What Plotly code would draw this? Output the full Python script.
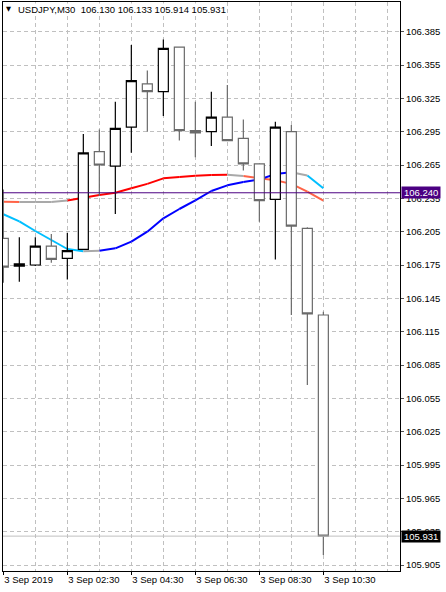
import plotly.graph_objects as go

# ---------------- data ----------------
symbol = "USDJPY,M30"
bar_index = list(range(21))
open_ = [106.199, 106.174, 106.175, 106.192, 106.181, 106.189, 106.277, 106.264, 106.299, 106.338,
         106.331, 106.371, 106.296, 106.295, 106.308, 106.289, 106.266, 106.234, 106.295, 106.208, 106.130]
high_ = [106.243, 106.200, 106.200, 106.203, 106.204, 106.293, 106.297, 106.322, 106.373, 106.350,
         106.378, 106.371, 106.322, 106.331, 106.337, 106.306, 106.266, 106.304, 106.301, 106.209, 106.133]
low_ = [106.159, 106.160, 106.174, 106.177, 106.162, 106.189, 106.237, 106.221, 106.276, 106.295,
        106.309, 106.287, 106.272, 106.282, 106.287, 106.260, 106.214, 106.180, 106.130, 106.067, 105.914]
close_ = [106.173, 106.176, 106.192, 106.180, 106.188, 106.276, 106.265, 106.298, 106.341, 106.331,
          106.370, 106.296, 106.294, 106.308, 106.287, 106.266, 106.233, 106.299, 106.210, 106.131, 105.931]

# slow moving average (red / tomato / gray states)
ma_slow = [106.2320, 106.2317, 106.2317, 106.2317, 106.2330, 106.2356, 106.2380, 106.2400, 106.2440,
           106.2480, 106.2530, 106.2542, 106.2553, 106.2560, 106.2563, 106.2551, 106.2530, 106.2513,
           106.2480, 106.2410, 106.2330]
ma_slow_state = ["down", "flat", "flat", "flat", "up", "up", "up", "up", "up", "up",
                 "up", "up", "up", "up", "flat", "down", "down", "down", "down", "down"]
# fast moving average (blue / deepskyblue / gray states)
ma_fast = [106.2207, 106.2143, 106.2056, 106.1975, 106.1894, 106.1873, 106.1879, 106.1900, 106.1960,
           106.2050, 106.2170, 106.2254, 106.2332, 106.2416, 106.2467, 106.2497, 106.2520, 106.2568,
           106.2584, 106.2556, 106.2440]
ma_fast_state = ["down", "down", "down", "down", "down", "flat", "up", "up", "up", "up",
                 "up", "up", "up", "up", "up", "up", "up", "up", "flat", "down"]

hline_level = 106.240
bid_level = close_[-1]

x_tick_pos = [0, 4, 8, 12, 16, 20]
x_tick_text = ["3 Sep 2019", "3 Sep 02:30", "3 Sep 04:30", "3 Sep 06:30", "3 Sep 08:30", "3 Sep 10:30"]
y_tick_vals = [105.905, 105.935, 105.965, 105.995, 106.025, 106.055, 106.085, 106.115, 106.145,
               106.175, 106.205, 106.235, 106.265, 106.295, 106.325, 106.355, 106.385]

# ---------------- style ----------------
FONT = "Liberation Sans"
FS = 9.5
GRID = "#C0C0C0"
DASH = "4px,3px"
X_RANGE = [-0.02, 24.79]
Y_RANGE = [105.8996, 106.4117]

slow_colors = {"up": "#FF0000", "down": "#FF6347", "flat": "#A9A9A9"}
fast_colors = {"up": "#0000FF", "down": "#00BFFF", "flat": "#A9A9A9"}

fig = go.Figure()


def add_colored_line(values, states, cmap):
    for state, color in cmap.items():
        xs, ys = [], []
        for i, s in enumerate(states):
            if s == state:
                xs += [bar_index[i], bar_index[i + 1], None]
                ys += [values[i], values[i + 1], None]
        if xs:
            fig.add_trace(go.Scatter(x=xs, y=ys, mode="lines",
                                     line=dict(color=color, width=2),
                                     hoverinfo="skip", showlegend=False,
                                     xaxis="x", yaxis="y"))


add_colored_line(ma_slow, ma_slow_state, slow_colors)
add_colored_line(ma_fast, ma_fast_state, fast_colors)

fig.add_trace(go.Candlestick(
    x=bar_index, open=open_, high=high_, low=low_, close=close_,
    increasing=dict(line=dict(color="#000000", width=1.2), fillcolor="#FFFFFF"),
    decreasing=dict(line=dict(color="#6A6A6A", width=1.2), fillcolor="#FFFFFF"),
    whiskerwidth=0, showlegend=False, hoverinfo="skip",
    xaxis="x2", yaxis="y2"))

fig.add_shape(type="line", xref="paper", x0=0, x1=1, yref="y", y0=hline_level, y1=hline_level,
              line=dict(color="#4B0082", width=1), layer="above")
fig.add_shape(type="line", xref="paper", x0=0, x1=1, yref="y", y0=bid_level, y1=bid_level,
              line=dict(color="#C0C0C0", width=1), layer="above")

fig.add_annotation(xref="paper", yref="y", x=1, y=hline_level, xanchor="left", yanchor="middle",
                   xshift=1, text="\u2009" + f"{hline_level:.3f}" + "\u2009", showarrow=False,
                   bgcolor="#4B0082", borderpad=0,
                   font=dict(family=FONT, size=FS, color="#FFFFFF"))
fig.add_annotation(xref="paper", yref="y", x=1, y=bid_level, xanchor="left", yanchor="middle",
                   xshift=1, text="\u2009" + f"{bid_level:.3f}" + "\u2009", showarrow=False,
                   bgcolor="#000000", borderpad=0,
                   font=dict(family=FONT, size=FS, color="#FFFFFF"))

header = (symbol + "\u00a0\u00a0" + " ".join(f"{v:.3f}" for v in
                                              (open_[-1], high_[-1], low_[-1], close_[-1])))
fig.add_annotation(xref="paper", yref="paper", x=0, y=1, xanchor="left", yanchor="top",
                   xshift=1, yshift=-1, text="\u25BC", showarrow=False, bgcolor="#FFFFFF",
                   borderpad=1, font=dict(family="DejaVu Sans", size=6.5, color="#000000"))
fig.add_annotation(xref="paper", yref="paper", x=0, y=1, xanchor="left", yanchor="top",
                   xshift=14, yshift=-1, text=header, showarrow=False, bgcolor="#FFFFFF",
                   borderpad=0, font=dict(family=FONT, size=FS, color="#000000"))

fig.update_layout(
    width=446, height=592,
    margin=dict(l=3, r=46, t=2, b=21),
    paper_bgcolor="#FFFFFF", plot_bgcolor="#FFFFFF",
    showlegend=False, hovermode=False,
    boxgap=0.375, boxgroupgap=0,
    font=dict(family=FONT, size=FS, color="#000000"),
    xaxis=dict(range=X_RANGE, tickmode="array", tickvals=x_tick_pos, ticktext=x_tick_text,
               ticks="outside", ticklen=3, tickcolor="#000000", ticklabelposition="outside right",
               showgrid=True, gridcolor=GRID, griddash=DASH, gridwidth=1,
               minor=dict(tick0=0, dtick=2, showgrid=True, gridcolor=GRID, griddash=DASH,
                          gridwidth=1, ticks=""),
               showline=True, linecolor="#000000", linewidth=1, mirror=True,
               zeroline=False, fixedrange=True, rangeslider=dict(visible=False),
               automargin=False,
               tickfont=dict(family=FONT, size=FS, color="#000000")),
    yaxis=dict(range=Y_RANGE, side="right", tickmode="array", tickvals=y_tick_vals,
               tickformat=".3f", ticks="outside", ticklen=3, tickcolor="#555555",
               showgrid=True, gridcolor=GRID, griddash=DASH, gridwidth=1,
               showline=True, linecolor="#000000", linewidth=1, mirror=True,
               zeroline=False, fixedrange=True, automargin=False,
               tickfont=dict(family=FONT, size=FS, color="#000000")),
    xaxis2=dict(range=X_RANGE, overlaying="x", visible=False, showgrid=False,
                rangeslider=dict(visible=False), fixedrange=True),
    yaxis2=dict(range=Y_RANGE, overlaying="y", visible=False, showgrid=False, fixedrange=True),
)

fig.write_html("out.html", config={"displayModeBar": False},
               post_script="document.body.style.margin='0px';"
                           "document.body.style.overflow='hidden';")
